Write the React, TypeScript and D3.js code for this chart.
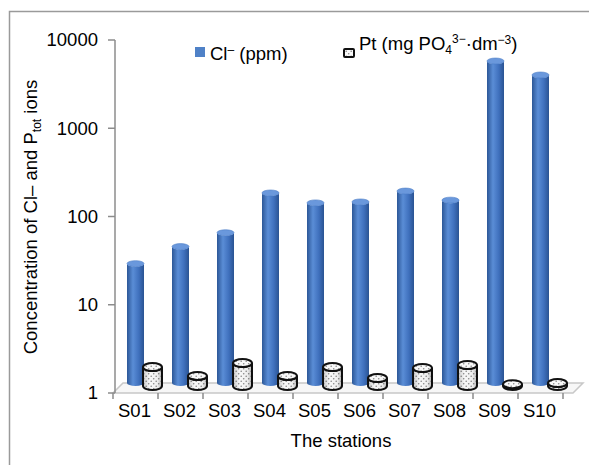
import React from "react";
import * as d3 from "d3";

const stations = ["S01", "S02", "S03", "S04", "S05", "S06", "S07", "S08", "S09", "S10"];
const chloride = [25, 39, 56, 158, 122, 125, 166, 131, 4940, 3430];
const ptot = [1.64, 1.3, 1.82, 1.3, 1.64, 1.23, 1.6, 1.73, 1.05, 1.08];
const yTicks = [1, 10, 100, 1000, 10000];

const W = 589;
const H = 465;
const FONT = "'Liberation Sans', Arial, sans-serif";
const FS = 18.5;
const FSS = 12;

function cylPath(x0: number, w: number, yTop: number, yBot: number, ry: number) {
  const rx = w / 2;
  return `M${x0},${yTop} L${x0},${yBot} A${rx},${ry} 0 0 0 ${x0 + w},${yBot} L${x0 + w},${yTop} A${rx},${ry} 0 0 1 ${x0},${yTop} Z`;
}

export default function App() {
  const y = d3.scaleLog().domain([1, 10000]).range([393, 40]);
  const x = d3.scaleBand<string>().domain(stations).range([113, 563]).padding(0);
  const bw = x.bandwidth();

  const blueDy = -6;
  const ptDy = -7;

  return (
    <svg width={W} height={H} style={{ display: "block", position: "absolute", left: 0, top: 0 }} fontFamily={FONT}>
      <defs>
        <linearGradient id="blueGrad" x1="0" x2="1" y1="0" y2="0">
          <stop offset="0" stopColor="#2c5797" />
          <stop offset="0.35" stopColor="#5a8dd6" />
          <stop offset="0.7" stopColor="#3f70bd" />
          <stop offset="1" stopColor="#2a5392" />
        </linearGradient>
        <pattern id="dots" width="5" height="5" patternUnits="userSpaceOnUse">
          <rect width="5" height="5" fill="#f8f8f8" />
          <circle cx="1.2" cy="1.2" r="0.8" fill="#888" />
          <circle cx="3.7" cy="3.7" r="0.8" fill="#888" />
        </pattern>
        <linearGradient id="ptShade" x1="0" x2="1" y1="0" y2="0">
          <stop offset="0" stopColor="#000" stopOpacity="0.2" />
          <stop offset="0.35" stopColor="#000" stopOpacity="0" />
          <stop offset="0.75" stopColor="#000" stopOpacity="0.04" />
          <stop offset="1" stopColor="#000" stopOpacity="0.26" />
        </linearGradient>
      </defs>
      <rect width={W} height={H} fill="#fff" />
      {/* frame */}
      <path d={`M9.5,${H} L9.5,11.5 L${W},11.5`} fill="none" stroke="#9a9a9a" strokeWidth={1.5} />

      {/* floor */}
      <polygon points="113,393 573,393 583,383 123,383" fill="#f7f7f7" stroke="#c8c8c8" strokeWidth={1.5} />

      {/* vertical axis */}
      <line x1={115} x2={115} y1={y(10000)} y2={y(1)} stroke="#8c8c8c" strokeWidth={1.5} />
      {yTicks.map((t) => (
        <g key={t}>
          <line x1={108} x2={115} y1={y(t)} y2={y(t)} stroke="#8c8c8c" strokeWidth={1.5} />
          <text x={98} y={y(t)} dy="0.35em" textAnchor="end" fontSize={FS} fill="#000">
            {t}
          </text>
        </g>
      ))}

      {/* x ticks */}
      {d3.range(stations.length + 1).map((i) => {
        const xx = 113 + i * bw;
        return <line key={i} x1={xx} x2={xx} y1={393} y2={399} stroke="#8c8c8c" strokeWidth={1.5} />;
      })}

      {/* blue cylinders */}
      {stations.map((s, i) => {
        const x0 = (x(s) as number) + 14;
        const w = 17;
        const ry = 3;
        const yTop = y(chloride[i]) + blueDy;
        const yBot = y(1) + blueDy - 4;
        return (
          <g key={s}>
            <path d={cylPath(x0, w, yTop, yBot, ry)} fill="url(#blueGrad)" />
            <ellipse cx={x0 + w / 2} cy={yTop} rx={w / 2} ry={ry} fill="#6a98dc" stroke="#4a7cc6" strokeWidth={0.6} />
          </g>
        );
      })}

      {/* Pt cylinders */}
      {stations.map((s, i) => {
        const x0 = (x(s) as number) + 30;
        const w = 19;
        const ry = 4;
        const yTop = y(ptot[i]) + ptDy;
        const yBot = y(1) + ptDy;
        return (
          <g key={s}>
            <path d={cylPath(x0, w, yTop, yBot, ry)} fill="url(#dots)" stroke="#111" strokeWidth={2} />
            <path d={cylPath(x0, w, yTop, yBot, ry)} fill="url(#ptShade)" />
            <ellipse cx={x0 + w / 2} cy={yTop} rx={w / 2} ry={ry} fill="url(#dots)" stroke="#111" strokeWidth={2} />
          </g>
        );
      })}

      {/* category labels */}
      {stations.map((s) => (
        <text key={s} x={(x(s) as number) + bw / 2 - 1} y={417} textAnchor="middle" fontSize={FS} fill="#000">
          {s}
        </text>
      ))}

      {/* axis titles */}
      <text x={341} y={447} textAnchor="middle" fontSize={FS} fill="#000">
        The stations
      </text>
      <text transform="translate(37,217) rotate(-90)" textAnchor="middle" fontSize={FS} fill="#000">
        Concentration of Cl– and P
        <tspan dy="4" fontSize={FSS}>tot</tspan>
        <tspan dy="-4"> ions</tspan>
      </text>

      {/* legend */}
      <rect x={195} y={47} width={10} height={10} fill="#4f81c7" />
      <text x={210} y={60} fontSize={FS} fill="#000">
        Cl<tspan dy="-6" fontSize={FSS}>–</tspan>
        <tspan dy="6"> (ppm)</tspan>
      </text>
      <rect x={344} y={49} width={10} height={8} fill="url(#dots)" stroke="#111" strokeWidth={2} rx={1} />
      <text x={359} y={50} fontSize={FS} fill="#000">
        Pt (mg PO<tspan dy="4" fontSize={FSS}>4</tspan>
        <tspan dy="-11" fontSize={FSS}>3−</tspan>
        <tspan dy="7">·dm</tspan>
        <tspan dy="-6" fontSize={FSS}>−3</tspan>
        <tspan dy="6">)</tspan>
      </text>
    </svg>
  );
}
